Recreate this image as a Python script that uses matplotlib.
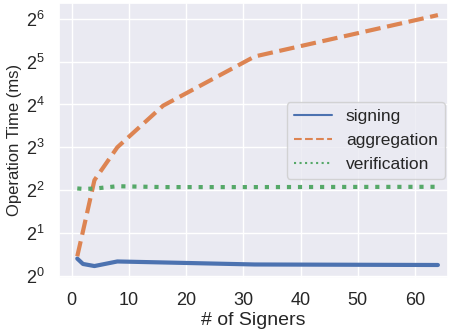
import matplotlib
matplotlib.use("Agg")
import matplotlib.pyplot as plt
from matplotlib.lines import Line2D
import seaborn as sns

sns.set_theme(style="darkgrid")
plt.rcParams['font.family'] = ['Liberation Sans', 'DejaVu Sans']

signers = [1, 2, 4, 8, 16, 32, 64]
signing = [1.32, 1.21, 1.17, 1.26, 1.24, 1.20, 1.19]
aggregation = [1.37, 2.06, 4.7, 8.0, 15.7, 34.8, 68.0]
verification = [4.11, 4.08, 4.10, 4.26, 4.2, 4.2, 4.22]

labels = ['signing', 'aggregation', 'verification']
colors = sns.color_palette("deep")

fig = plt.figure(figsize=(4.5, 3.32), dpi=100)
ax = fig.add_axes([0.131, 0.163, 0.865, 0.828])

ax.plot(signers, signing, color=colors[0], lw=3, linestyle='-')
ax.plot(signers, aggregation, color=colors[1], lw=3, linestyle='--')
ax.plot(signers, verification, color=colors[2], lw=3, linestyle=':')

ax.set_yscale('log', base=2)
ax.set_ylim(2 ** -0.05, 2 ** 6.37)
ax.set_xlim(-2.2, 65.8)
ax.set_xticks([0, 10, 20, 30, 40, 50, 60])
ax.set_yticks([2 ** i for i in range(7)])
ax.tick_params(axis='both', labelsize=13, pad=4)

ax.set_xlabel('# of Signers', fontsize=14, labelpad=2)
ax.set_ylabel('Operation Time (ms)', fontsize=12, labelpad=3)

# legend handles are thinner than the plotted lines
handles = [
    Line2D([], [], color=colors[0], lw=1.5, linestyle='-'),
    Line2D([], [], color=colors[1], lw=1.5, linestyle='--'),
    Line2D([], [], color=colors[2], lw=1.5, linestyle=':'),
]
ax.legend(handles, labels, loc='center right', bbox_to_anchor=(1.0, 0.5),
          fontsize=12.5, handlelength=2.2, borderaxespad=0.2)

fig.savefig('out.png', dpi=100)
